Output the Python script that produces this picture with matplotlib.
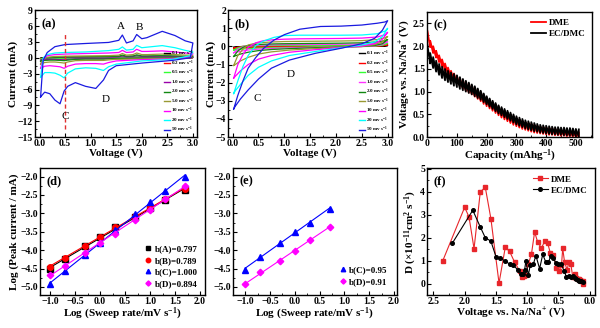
import numpy as np
import matplotlib
matplotlib.use('Agg')
import matplotlib.pyplot as plt
from matplotlib.ticker import AutoMinorLocator

plt.rcParams['font.family'] = ['Liberation Serif', 'DejaVu Serif']
plt.rcParams['font.weight'] = 'bold'
plt.rcParams['axes.labelweight'] = 'bold'
plt.rcParams['mathtext.fontset'] = 'custom'
plt.rcParams['mathtext.rm'] = 'Liberation Serif:bold'
plt.rcParams['mathtext.it'] = 'Liberation Serif:bold'
plt.rcParams['mathtext.bf'] = 'Liberation Serif:bold'
plt.rcParams['mathtext.default'] = 'rm'

# ---- data ----
rates = ['0.1', '0.2', '0.5', '1.0', '2.0', '5.0', '10', '20', '50']
colors_a = ['#000000', '#ff0000', '#33ff33', '#9900aa', '#118811', '#999933', '#ff00ff', '#00ffff', '#1a1ae0']
colors_b = ['#000000', '#ff0000', '#33ff33', '#ff33ff', '#118811', '#999933', '#ff00ff', '#00ffff', '#1a1ae0']

# (a) CV, anodic / cathodic branches
va_up = [0.02, 0.07, 0.15, 0.3, 0.5, 0.9, 1.35, 1.55, 1.62, 1.7, 1.83, 1.9, 2.0, 2.1, 2.4, 2.65, 2.85, 3.0]
ia_up = [
    [-0.1, -0.03, 0, 0.01, 0.02, 0.02, 0.03, 0.03, 0.07, 0.03, 0.04, 0.08, 0.04, 0.04, 0.05, 0.04, 0.03, 0.03],
    [-0.2, -0.05, 0, 0.02, 0.03, 0.04, 0.05, 0.06, 0.12, 0.06, 0.08, 0.14, 0.08, 0.08, 0.1, 0.08, 0.06, 0.06],
    [-0.3, -0.1, 0.0, 0.03, 0.05, 0.07, 0.1, 0.12, 0.2, 0.12, 0.15, 0.25, 0.15, 0.15, 0.2, 0.15, 0.12, 0.12],
    [-0.5, -0.15, 0.0, 0.05, 0.1, 0.12, 0.15, 0.2, 0.35, 0.2, 0.25, 0.4, 0.25, 0.25, 0.3, 0.25, 0.2, 0.2],
    [-0.7, -0.2, 0.0, 0.1, 0.15, 0.2, 0.25, 0.3, 0.5, 0.3, 0.35, 0.55, 0.35, 0.35, 0.4, 0.35, 0.3, 0.3],
    [-1.2, -0.3, 0.1, 0.25, 0.3, 0.35, 0.4, 0.5, 0.8, 0.5, 0.6, 0.9, 0.6, 0.6, 0.7, 0.6, 0.5, 0.5],
    [-2.0, -0.3, 0.4, 0.6, 0.7, 0.8, 0.9, 1.0, 1.4, 1.0, 1.1, 1.6, 1.2, 1.2, 1.3, 1.1, 0.9, 0.8],
    [-3.7, 0.0, 0.6, 0.9, 1.0, 1.1, 1.35, 1.6, 2.05, 1.45, 1.6, 2.35, 1.9, 2.0, 2.3, 1.9, 1.4, 1.1],
    [-7.4, -0.5, 1.0, 2.1, 2.5, 2.7, 2.9, 3.3, 4.3, 2.8, 3.2, 4.4, 3.6, 3.8, 5.0, 4.2, 3.2, 2.8],
]
va_dn = [3.0, 2.95, 2.6, 2.0, 1.5, 1.35, 1.25, 1.1, 0.9, 0.7, 0.55, 0.48, 0.4, 0.3, 0.2, 0.1, 0.02]
ia_dn = [
    [0.03, 0, 0, -0.01, -0.01, -0.02, -0.02, -0.02, -0.02, -0.03, -0.04, -0.06, -0.05, -0.04, -0.04, -0.05, -0.1],
    [0.06, 0.01, -0.01, -0.02, -0.03, -0.04, -0.05, -0.05, -0.05, -0.06, -0.09, -0.12, -0.1, -0.09, -0.09, -0.1, -0.2],
    [0.12, 0.02, -0.02, -0.04, -0.06, -0.08, -0.1, -0.1, -0.1, -0.12, -0.18, -0.23, -0.2, -0.18, -0.18, -0.2, -0.3],
    [0.2, 0.03, -0.03, -0.06, -0.1, -0.13, -0.17, -0.17, -0.17, -0.2, -0.3, -0.38, -0.35, -0.3, -0.3, -0.35, -0.5],
    [0.3, 0.05, -0.05, -0.1, -0.15, -0.2, -0.25, -0.25, -0.25, -0.3, -0.45, -0.55, -0.5, -0.45, -0.45, -0.5, -0.7],
    [0.5, 0.1, -0.1, -0.2, -0.3, -0.4, -0.5, -0.5, -0.5, -0.55, -0.8, -1.0, -0.9, -0.8, -0.8, -0.9, -1.2],
    [0.8, 0.2, -0.2, -0.35, -0.6, -0.9, -1.2, -1.1, -1.1, -1.2, -1.6, -2.0, -1.7, -1.6, -1.5, -1.6, -2.0],
    [1.1, 0.4, -0.3, -0.6, -1.2, -1.7, -2.4, -2.0, -1.9, -2.1, -2.9, -3.8, -3.3, -2.9, -2.8, -2.8, -3.7],
    [2.8, 0.0, -0.5, -1.0, -1.5, -2.4, -4.2, -5.8, -5.4, -4.7, -5.4, -6.3, -8.7, -8.0, -6.8, -6.5, -7.4],
]

# (b) CV
vb_up = [0.02, 0.1, 0.2, 0.3, 0.45, 0.6, 0.8, 1.0, 1.3, 1.7, 2.1, 2.5, 2.8, 2.95, 3.0]
ib_up = [
    [-0.05, -0.02, 0, 0.005, 0.01, 0.01, 0.01, 0.015, 0.015, 0.015, 0.02, 0.02, 0.025, 0.035, 0.045],
    [-0.1, -0.04, 0, 0.01, 0.02, 0.02, 0.03, 0.03, 0.03, 0.03, 0.04, 0.04, 0.05, 0.07, 0.09],
    [-0.2, -0.08, -0.01, 0.02, 0.04, 0.05, 0.05, 0.06, 0.06, 0.06, 0.07, 0.08, 0.1, 0.14, 0.17],
    [-0.35, -0.15, -0.03, 0.03, 0.06, 0.08, 0.09, 0.1, 0.1, 0.11, 0.12, 0.13, 0.17, 0.22, 0.26],
    [-0.55, -0.25, -0.05, 0.05, 0.1, 0.12, 0.14, 0.15, 0.16, 0.17, 0.18, 0.2, 0.25, 0.32, 0.38],
    [-1.05, -0.5, -0.15, 0.08, 0.18, 0.22, 0.25, 0.27, 0.28, 0.29, 0.3, 0.32, 0.38, 0.48, 0.55],
    [-1.75, -1.0, -0.45, -0.05, 0.2, 0.32, 0.37, 0.4, 0.42, 0.43, 0.44, 0.46, 0.52, 0.65, 0.78],
    [-2.6, -1.9, -1.1, -0.5, 0.05, 0.3, 0.5, 0.6, 0.62, 0.62, 0.62, 0.63, 0.7, 0.85, 1.0],
    [-3.45, -2.7, -1.9, -1.2, -0.6, -0.1, 0.35, 0.65, 0.95, 1.1, 1.12, 1.18, 1.28, 1.35, 1.42],
]
vb_dn = [3.0, 2.9, 2.75, 2.5, 2.1, 1.6, 1.1, 0.75, 0.5, 0.3, 0.15, 0.05, 0.02]
ib_dn = [
    [0.045, 0.015, 0.005, 0, 0, -0.01, -0.015, -0.02, -0.025, -0.03, -0.04, -0.045, -0.05],
    [0.09, 0.03, 0.01, 0, -0.01, -0.02, -0.03, -0.04, -0.05, -0.06, -0.08, -0.09, -0.1],
    [0.17, 0.06, 0.02, 0, -0.01, -0.03, -0.05, -0.07, -0.09, -0.12, -0.15, -0.19, -0.2],
    [0.26, 0.1, 0.03, 0, -0.02, -0.05, -0.08, -0.11, -0.15, -0.2, -0.27, -0.33, -0.35],
    [0.38, 0.15, 0.05, 0, -0.03, -0.07, -0.12, -0.17, -0.23, -0.32, -0.42, -0.52, -0.55],
    [0.55, 0.25, 0.1, 0.0, -0.05, -0.12, -0.2, -0.3, -0.42, -0.6, -0.8, -1.0, -1.05],
    [0.78, 0.4, 0.15, 0.02, -0.06, -0.18, -0.32, -0.5, -0.7, -1.0, -1.35, -1.65, -1.75],
    [1.0, 0.55, 0.25, 0.08, -0.08, -0.28, -0.5, -0.8, -1.15, -1.6, -2.1, -2.45, -2.6],
    [1.42, 0.9, 0.45, 0.15, -0.1, -0.38, -0.75, -1.2, -1.8, -2.4, -2.9, -3.3, -3.45],
]

# (c) GITT
cap = [0, 10, 20, 30, 40, 50, 60, 70, 80, 90, 100, 110, 120, 130, 140, 150, 160, 170, 180, 190,
       200, 210, 220, 230, 240, 250, 260, 270, 280, 290, 300, 310, 320, 330, 340, 350, 360, 370, 380, 390,
       400, 410, 420, 430, 440, 450, 460, 470, 480, 490, 500, 510]
ec_top = [2.05, 1.85, 1.76, 1.68, 1.61, 1.55, 1.50, 1.46, 1.42, 1.39, 1.36, 1.32, 1.28, 1.24, 1.20, 1.16, 1.12, 1.07, 1.02, 0.96,
          0.90, 0.85, 0.80, 0.75, 0.70, 0.66, 0.62, 0.58, 0.54, 0.50, 0.46, 0.43, 0.40, 0.37, 0.35, 0.33, 0.31, 0.29, 0.27, 0.26,
          0.25, 0.24, 0.23, 0.22, 0.22, 0.21, 0.21, 0.20, 0.20, 0.19, 0.18, 0.17]
ec_bot = [2.00, 1.62, 1.52, 1.44, 1.37, 1.30, 1.25, 1.21, 1.17, 1.13, 1.10, 1.06, 1.03, 1.00, 0.97, 0.94, 0.90, 0.86, 0.82, 0.77,
          0.72, 0.67, 0.62, 0.57, 0.52, 0.48, 0.44, 0.40, 0.36, 0.32, 0.28, 0.25, 0.22, 0.19, 0.17, 0.15, 0.13, 0.12, 0.10, 0.09,
          0.08, 0.07, 0.06, 0.06, 0.05, 0.05, 0.04, 0.04, 0.03, 0.03, 0.02, 0.01]
dme_top = [2.35, 2.12, 2.00, 1.90, 1.80, 1.71, 1.62, 1.53, 1.46, 1.40, 1.34, 1.29, 1.25, 1.21, 1.17, 1.13, 1.09, 1.04, 0.99, 0.93,
           0.87, 0.82, 0.77, 0.72, 0.67, 0.62, 0.58, 0.54, 0.50, 0.46, 0.42, 0.39, 0.36, 0.33, 0.31, 0.29, 0.27, 0.25, 0.23, 0.22,
           0.21, 0.20, 0.19, 0.18, 0.17, 0.16, 0.15, 0.14, 0.13, 0.12, 0.11, 0.10]
dme_bot = [2.28, 1.98, 1.85, 1.75, 1.65, 1.56, 1.47, 1.38, 1.31, 1.24, 1.18, 1.12, 1.07, 1.02, 0.98, 0.94, 0.89, 0.84, 0.79, 0.73,
           0.68, 0.63, 0.58, 0.53, 0.48, 0.43, 0.39, 0.35, 0.31, 0.27, 0.24, 0.21, 0.18, 0.16, 0.14, 0.12, 0.10, 0.09, 0.08, 0.07,
           0.06, 0.05, 0.05, 0.04, 0.04, 0.03, 0.03, 0.02, 0.02, 0.01, 0.01, 0.0]

# (d) log peak current vs log sweep rate
logv_d = [-1.0, -0.699, -0.301, 0.0, 0.301, 0.699, 1.0, 1.301, 1.699]
peak_A = [-4.52, -4.25, -3.90, -3.65, -3.38, -3.10, -2.85, -2.65, -2.37]
peak_B = [-4.45, -4.22, -3.88, -3.63, -3.37, -3.08, -2.82, -2.62, -2.35]
peak_C = [-4.92, -4.58, -4.12, -3.80, -3.45, -3.02, -2.70, -2.40, -2.00]
peak_D = [-4.68, -4.42, -4.07, -3.80, -3.55, -3.18, -2.90, -2.62, -2.25]
labels_d = ['b(A)=0.797', 'b(B)=0.789', 'b(C)=1.000', 'b(D)=0.894']

# (e)
logv_e = [-1.0, -0.699, -0.301, 0.0, 0.301, 0.699]
peak_C_e = [-4.53, -4.18, -3.80, -3.50, -3.25, -2.88]
peak_D_e = [-4.93, -4.60, -4.30, -4.02, -3.72, -3.37]
labels_e = ['b(C)=0.95', 'b(D)=0.91']

# (f) diffusion coefficient
v_dme = [2.35, 2.0, 1.93, 1.85, 1.75, 1.67, 1.58, 1.45, 1.35, 1.28, 1.2, 1.12, 1.08, 1.05, 1.02, 0.98, 0.93, 0.88,
         0.83, 0.77, 0.72, 0.67, 0.63, 0.58, 0.53, 0.49, 0.45, 0.43, 0.4, 0.36, 0.33, 0.3, 0.27, 0.24, 0.22, 0.19,
         0.17, 0.15, 0.13, 0.11, 0.1]
d_dme = [1.0, 3.33, 2.9, 1.52, 4.0, 4.2, 2.83, 0.02, 1.58, 1.4, 0.93, 0.55, 0.3, 0.33, 0.38, 0.85, 1.3, 2.25,
         1.8, 1.55, 1.85, 1.75, 1.35, 1.25, 0.7, 0.55, 0.8, 1.53, 0.93, 0.6, 0.95, 0.85, 0.3, 0.4, 0.25, 0.2,
         0.18, 0.15, 0.12, 0.1, 0.0]
v_ec = [2.2, 1.87, 1.75, 1.67, 1.58, 1.5, 1.43, 1.35, 1.28, 1.22, 1.15, 1.1, 1.07, 1.04, 1.02, 0.98, 0.95, 0.9,
        0.86, 0.8, 0.75, 0.7, 0.66, 0.62, 0.58, 0.54, 0.5, 0.45, 0.41, 0.37, 0.33, 0.3, 0.27, 0.24, 0.21, 0.19,
        0.17, 0.15, 0.13, 0.11]
d_ec = [1.75, 3.2, 2.47, 2.0, 1.85, 1.18, 1.1, 0.98, 0.85, 0.8, 0.6, 0.42, 0.4, 0.6, 0.98, 0.37, 0.8, 0.85,
        1.22, 0.65, 1.27, 0.93, 0.92, 1.22, 1.1, 0.9, 0.85, 0.85, 0.55, 0.3, 0.35, 0.28, 0.35, 0.25, 0.2, 0.15,
        0.12, 0.1, 0.1, 0.05]

TICK = 7
LAB = 8


def style(ax):
    for s in ax.spines.values():
        s.set_linewidth(1.0)
    ax.tick_params(direction='in', length=3, width=0.8, labelsize=TICK, pad=1.5)
    ax.tick_params(which='minor', direction='in', length=1.5, width=0.6)
    ax.xaxis.set_minor_locator(AutoMinorLocator(2))
    ax.yaxis.set_minor_locator(AutoMinorLocator(2))
    for t in ax.get_xticklabels() + ax.get_yticklabels():
        t.set_fontweight('bold')


def panel_tag(ax, s):
    ax.text(0.04, 0.94, s, transform=ax.transAxes, fontsize=9, fontweight='bold', va='top')


def rate_legend(ax):
    lg = ax.legend(loc='lower right', fontsize=3.6, frameon=False, handlelength=1.1, handletextpad=0.3,
                   labelspacing=0.05, borderaxespad=0.15)
    for h in lg.get_lines():
        h.set_linewidth(1.0)


fig = plt.figure(figsize=(6, 3.28), dpi=100)

# ---- (a) ----
ax = fig.add_axes([0.0583, 0.582, 0.27, 0.387])
for k in range(len(rates)):
    x = va_up + va_dn
    y = ia_up[k] + ia_dn[k]
    ax.plot(x, y, color=colors_a[k], lw=0.9, label=rates[k] + ' mv s$^{-1}$')
ax.plot([0.5, 0.5], [-13.4, 4.6], color='#e03030', lw=1.0, ls=(0, (3, 2)))
ax.text(1.6, 5.4, 'A', fontsize=8, fontweight='normal', ha='center')
ax.text(1.95, 5.2, 'B', fontsize=8, fontweight='normal', ha='center')
ax.text(0.5, -11.6, 'C', fontsize=8, fontweight='normal', ha='center')
ax.text(1.3, -8.4, 'D', fontsize=8, fontweight='normal', ha='center')
ax.set_xlim(-0.09, 3.08)
ax.set_ylim(-15, 9)
ax.set_xticks([0.0, 0.5, 1.0, 1.5, 2.0, 2.5, 3.0])
ax.set_yticks(range(-15, 10, 3))
ax.set_xlabel('Voltage (V)', fontsize=LAB, labelpad=0)
ax.set_ylabel('Current (mA)', fontsize=LAB, labelpad=0)
style(ax)
panel_tag(ax, '(a)')
rate_legend(ax)

# ---- (b) ----
ax = fig.add_axes([0.38, 0.582, 0.273, 0.387])
for k in range(len(rates)):
    x = vb_up + vb_dn
    y = ib_up[k] + ib_dn[k]
    ax.plot(x, y, color=colors_b[k], lw=0.9, label=rates[k] + ' mv s$^{-1}$')
ax.text(0.47, -3.0, 'C', fontsize=8, fontweight='normal', ha='center')
ax.text(1.12, -1.7, 'D', fontsize=8, fontweight='normal', ha='center')
ax.set_xlim(-0.09, 3.08)
ax.set_ylim(-5, 2)
ax.set_xticks([0.0, 0.5, 1.0, 1.5, 2.0, 2.5, 3.0])
ax.set_yticks(range(-5, 3))
ax.set_xlabel('Voltage (V)', fontsize=LAB, labelpad=0)
ax.set_ylabel('Current (mA)', fontsize=LAB, labelpad=0)
style(ax)
panel_tag(ax, '(b)')
rate_legend(ax)

# ---- (c) ----
ax = fig.add_axes([0.712, 0.582, 0.275, 0.381])


def gitt_path(c, top, bot):
    xs, ys = [], []
    for i in range(len(c)):
        xs += [c[i], c[i]]
        ys += [bot[i], top[i]]
    return xs, ys


xs, ys = gitt_path(cap, dme_top, dme_bot)
ax.plot(xs, ys, color='#ff0000', lw=1.3, label='DME')
xs, ys = gitt_path(cap, ec_top, ec_bot)
ax.plot(xs, ys, color='#000000', lw=1.3, label='EC/DMC')
ax.set_xlim(0, 555)
ax.set_ylim(0, 2.75)
ax.set_xticks([0, 100, 200, 300, 400, 500])
ax.set_yticks([0.0, 0.5, 1.0, 1.5, 2.0, 2.5])
ax.set_xlabel('Capacity (mAhg$^{-1}$)', fontsize=LAB, labelpad=0)
ax.set_ylabel('Voltage vs. Na/Na$^{+}$ (V)', fontsize=LAB, labelpad=1)
style(ax)
panel_tag(ax, '(c)')
ax.legend(loc='upper right', fontsize=6.5, frameon=False, handlelength=1.6, handletextpad=0.4,
          labelspacing=0.3, borderaxespad=0.3)

# ---- (d) ----
ax = fig.add_axes([0.0667, 0.1006, 0.275, 0.387])
series_d = [peak_A, peak_B, peak_C, peak_D]
cols_d = ['#000000', '#ff0000', '#0000ff', '#ff00ff']
marks_d = ['s', 'o', '^', 'D']
for k in range(4):
    p = np.polyfit(logv_d, series_d[k], 1)
    ax.plot(logv_d, np.polyval(p, logv_d), color=cols_d[k], lw=0.8)
    ax.plot(logv_d, series_d[k], ls='none', marker=marks_d[k], ms=4 if marks_d[k] != 'D' else 3.3,
            color=cols_d[k], label=labels_d[k])
ax.set_xlim(-1.2, 2.1)
ax.set_ylim(-5.22, -1.77)
ax.set_xticks([-1.0, -0.5, 0.0, 0.5, 1.0, 1.5, 2.0])
ax.set_yticks([-5.0, -4.5, -4.0, -3.5, -3.0, -2.5, -2.0])
ax.set_xlabel('Log (Sweep rate/mV s$^{-1}$)', fontsize=LAB, labelpad=0)
ax.set_ylabel('Log (Peak current / mA)', fontsize=LAB, labelpad=1)
style(ax)
panel_tag(ax, '(d)')
ax.legend(loc='lower right', fontsize=6.5, frameon=False, handlelength=0.8, handletextpad=0.3,
          labelspacing=0.35, borderaxespad=0.4, markerscale=0.8)

# ---- (e) ----
ax = fig.add_axes([0.388, 0.1006, 0.273, 0.387])
series_e = [peak_C_e, peak_D_e]
cols_e = ['#0000ff', '#ff00ff']
marks_e = ['^', 'D']
for k in range(2):
    p = np.polyfit(logv_e, series_e[k], 1)
    ax.plot(logv_e, np.polyval(p, logv_e), color=cols_e[k], lw=0.8)
    ax.plot(logv_e, series_e[k], ls='none', marker=marks_e[k], ms=4 if marks_e[k] != 'D' else 3.3,
            color=cols_e[k], label=labels_e[k])
ax.set_xlim(-1.25, 2.05)
ax.set_ylim(-5.22, -1.77)
ax.set_xticks([-1.0, -0.5, 0.0, 0.5, 1.0, 1.5, 2.0])
ax.set_yticks([-5.0, -4.5, -4.0, -3.5, -3.0, -2.5, -2.0])
ax.set_xlabel('Log (Sweep rate/mV s$^{-1}$)', fontsize=LAB, labelpad=0)
style(ax)
panel_tag(ax, '(e)')
ax.legend(loc='lower right', fontsize=6.5, frameon=False, handlelength=0.8, handletextpad=0.3,
          labelspacing=0.35, borderaxespad=0.6, markerscale=0.8)

# ---- (f) ----
ax = fig.add_axes([0.712, 0.1006, 0.28, 0.387])
ax.plot(v_dme, d_dme, color='#e8262b', lw=0.8, marker='s', ms=2.8, label='DME')
ax.plot(v_ec, d_ec, color='#000000', lw=0.8, marker='o', ms=2.6, label='EC/DMC')
ax.set_xlim(2.6, -0.09)
ax.set_ylim(-0.5, 5.04)
ax.set_xticks([2.5, 2.0, 1.5, 1.0, 0.5, 0.0])
ax.set_yticks([0, 1, 2, 3, 4, 5])
ax.set_xlabel('Voltage vs. Na/Na$^{+}$ (V)', fontsize=LAB, labelpad=0)
ax.set_ylabel('D (\u00d710$^{-11}$cm$^{2}$ s$^{-1}$)', fontsize=LAB, labelpad=1)
style(ax)
panel_tag(ax, '(f)')
ax.legend(loc='upper right', fontsize=6.5, frameon=False, handlelength=1.6, handletextpad=0.4,
          labelspacing=0.3, borderaxespad=0.4)

fig.savefig('out.png', dpi=100)
